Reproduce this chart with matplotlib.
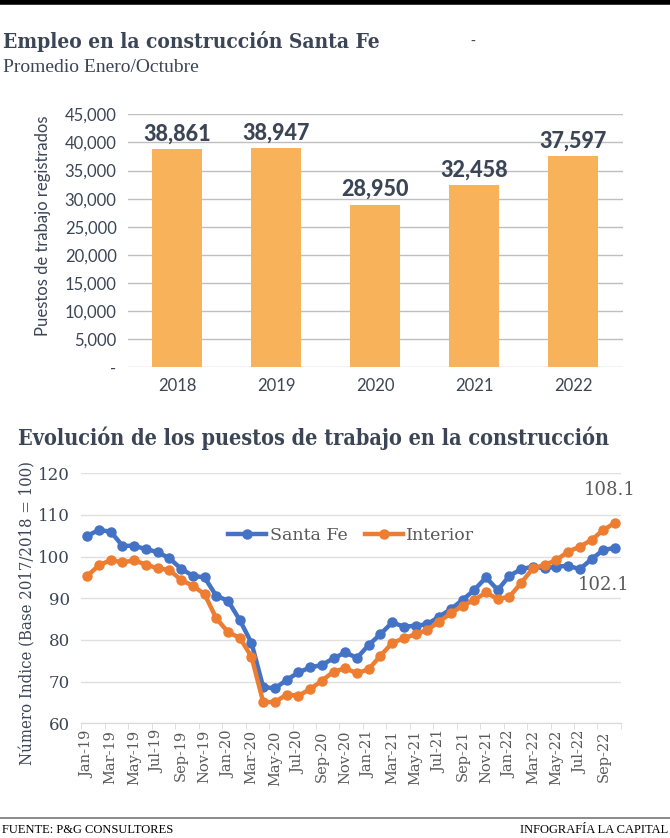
import matplotlib
matplotlib.use("Agg")
import matplotlib.pyplot as plt
from matplotlib.ticker import FuncFormatter, FixedLocator

# --- data: bar chart
years = ["2018", "2019", "2020", "2021", "2022"]
puestos = [38861, 38947, 28950, 32458, 37597]

# --- data: monthly index (Jan-19 .. Oct-22)
month_names = ["Jan", "Feb", "Mar", "Apr", "May", "Jun",
               "Jul", "Aug", "Sep", "Oct", "Nov", "Dec"]
months = [m + "-" + y for y in ["19", "20", "21", "22"] for m in month_names][:46]

santa_fe = [105.0, 106.4, 106.0, 102.6, 102.6, 101.8, 101.1, 99.6, 97.1, 95.4, 95.0, 90.6,
            89.4, 84.8, 79.3, 68.7, 68.4, 70.4, 72.2, 73.4, 74.0, 75.6, 77.0, 75.7,
            78.8, 81.4, 84.2, 83.2, 83.4, 83.8, 85.6, 87.4, 89.6, 92.0, 95.0, 92.0,
            95.4, 97.0, 97.6, 97.2, 97.6, 97.8, 97.0, 99.4, 101.6, 102.1]
interior = [95.4, 97.9, 99.2, 98.6, 99.1, 98.1, 97.2, 96.8, 94.4, 93.0, 91.0, 85.2,
            81.9, 80.5, 76.0, 65.1, 65.1, 66.9, 66.6, 68.2, 70.2, 72.4, 73.2, 72.0,
            73.0, 76.2, 79.3, 80.4, 81.4, 82.4, 84.4, 86.4, 88.2, 89.6, 91.4, 89.8,
            90.4, 93.7, 97.2, 98.0, 99.2, 101.2, 102.4, 104.0, 106.4, 108.1]

DARK = "#3b4556"
GREY = "#595959"
ORANGE_BAR = "#f8b35a"
BLUE = "#4472c4"
ORANGE = "#ed7d31"

fig = plt.figure(figsize=(6.7, 8.38), dpi=100)

# top black rule and footer rule
fig.add_artist(plt.Line2D([0, 1], [0.998, 0.998], color="black", lw=4))
fig.add_artist(plt.Line2D([0, 1], [1 - 818 / 838, 1 - 818 / 838], color="#777777", lw=1.2))

# titles
fig.text(0.004, 1 - 41 / 838, "Empleo en la construcción Santa Fe", fontsize=15,
         fontweight="bold", family="DejaVu Serif", fontstretch="condensed",
         color=DARK, va="center")
fig.text(470 / 670, 1 - 42 / 838, "-", fontsize=10, color=DARK, va="center")
fig.text(0.004, 1 - 68 / 838, "Promedio Enero/Octubre", fontsize=14,
         family="Liberation Serif", color=DARK, va="center")
fig.text(18 / 670, 1 - 438 / 838, "Evolución de los puestos de trabajo en la construcción",
         fontsize=15.5, fontweight="bold", family="DejaVu Serif", fontstretch="condensed",
         color=DARK, va="center")

# footer
fig.text(0.003, 1 - 830 / 838, "FUENTE: P&G CONSULTORES", fontsize=9,
         family="Liberation Serif", color="black", va="center")
fig.text(0.997, 1 - 830 / 838, "INFOGRAFÍA LA CAPITAL", fontsize=9,
         family="Liberation Serif", color="black", va="center", ha="right")

# ---------------- bar chart
ax1 = fig.add_axes([127.7 / 670, 1 - 367.3 / 838, 495 / 670, 253 / 838])
ax1.bar(years, puestos, width=0.5, color=ORANGE_BAR, zorder=2)
ax1.set_ylim(0, 45000)
ax1.set_xlim(-0.5, 4.5)
ax1.set_yticks(range(0, 45001, 5000))
ax1.yaxis.set_major_formatter(FuncFormatter(lambda v, p: "-" if v == 0 else f"{int(v):,}"))
ax1.grid(axis="y", color="#bfbfbf", lw=1, zorder=0)
for s in ax1.spines.values():
    s.set_visible(False)
ax1.tick_params(length=0, labelsize=12, colors=DARK, pad=8)
for lab in ax1.get_xticklabels() + ax1.get_yticklabels():
    lab.set_family("Lato")
for x, v in zip(years, puestos):
    ax1.text(x, v + 800, f"{v:,}", ha="center", va="bottom", fontsize=15.5,
             fontweight=900, family="Lato", color=DARK)
ax1.set_ylabel("Puestos de trabajo registrados", fontsize=12, family="Lato",
               color=DARK)
ax1.yaxis.set_label_coords(-0.155, 0.56)

# ---------------- line chart
ax2 = fig.add_axes([81.4 / 670, 1 - 723.3 / 838, 539.5 / 670, 250 / 838])
xs = list(range(len(months)))
ax2.plot(xs, santa_fe, color=BLUE, lw=3.2, marker="o", ms=6.5, label="Santa Fe", zorder=3)
ax2.plot(xs, interior, color=ORANGE, lw=3.2, marker="o", ms=6.5, label="Interior", zorder=3)
ax2.set_xlim(-0.5, len(months) - 0.5)
ax2.set_ylim(60, 120)
ax2.set_yticks(range(60, 121, 10))
ax2.set_xticks(xs[::2])
ax2.set_xticklabels(months[::2], rotation=90)
ax2.xaxis.set_minor_locator(FixedLocator([i - 0.5 for i in range(0, len(months) + 1, 2)]))
ax2.tick_params(axis="x", which="major", length=0, labelsize=10.5, colors=GREY, pad=5)
ax2.tick_params(axis="x", which="minor", length=4, color="#d9d9d9")
ax2.tick_params(axis="y", length=0, labelsize=12, colors=DARK, pad=8)
for lab in ax2.get_xticklabels() + ax2.get_yticklabels():
    lab.set_family("DejaVu Serif")
ax2.grid(axis="y", color="#e0e0e0", lw=1, zorder=0)
for s in ["top", "right", "left"]:
    ax2.spines[s].set_visible(False)
ax2.spines["bottom"].set_color("#d9d9d9")
ax2.set_ylabel("Número Indice (Base 2017/2018 = 100)", fontsize=12,
               family="DejaVu Serif", fontstretch="condensed", color=DARK)
ax2.yaxis.set_label_coords(-0.083, 0.44)
ax2.legend(loc="center", bbox_to_anchor=(0.5, 0.75), ncol=2, frameon=False,
           prop={"family": "DejaVu Serif", "size": 12.5}, labelcolor=GREY,
           handlelength=2.2, columnspacing=1.0, handletextpad=0.2)
ax2.annotate(f"{interior[-1]:.1f}", (xs[-1], interior[-1]), xytext=(-4, 20),
             textcoords="offset points", ha="center", fontsize=13,
             family="DejaVu Serif", color=GREY)
ax2.annotate(f"{santa_fe[-1]:.1f}", (xs[-1], santa_fe[-1]), xytext=(-8, -30),
             textcoords="offset points", ha="center", fontsize=13,
             family="DejaVu Serif", color=GREY)

fig.savefig("out.png", dpi=100)
